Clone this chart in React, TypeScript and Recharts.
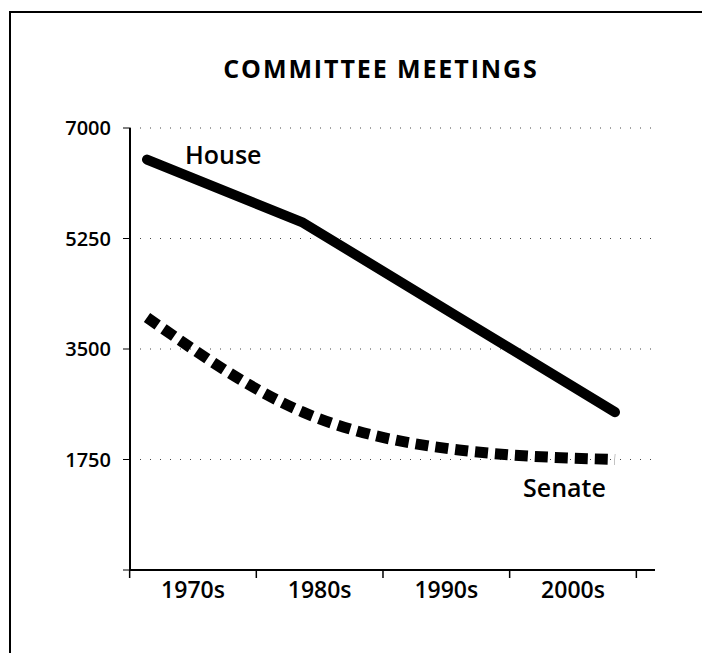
import { LineChart, Line, XAxis, YAxis, CartesianGrid } from "recharts";

const decades = ["1970s", "1980s", "1990s", "2000s"];
const house = [6500, 5500, 4000, 2500];
const senate = [4000, 2500, 1900, 1750];
const yTicks = [0, 1750, 3500, 5250, 7000];

const data = decades.map((d, i) => ({ decade: d, house: house[i], senate: senate[i] }));

const FONT = "'Open Sans', 'Noto Sans', sans-serif";
const BAND = 126.7;

function DecadeTick(props: any) {
  const { x, y, payload, index, visibleTicksCount } = props;
  const axisY = y - 12;
  const left = x - BAND / 2;
  return (
    <g>
      <line x1={left} x2={left} y1={axisY} y2={axisY + 8} stroke="#000" strokeWidth={1.5} />
      {index === visibleTicksCount - 1 && (
        <line x1={x + BAND / 2} x2={x + BAND / 2} y1={axisY} y2={axisY + 8} stroke="#000" strokeWidth={1.5} />
      )}
      <text x={x} y={y} dy="0.71em" textAnchor="middle" fontFamily={FONT} fontWeight={600} fontSize={23} fill="#000">
        {payload.value}
      </text>
    </g>
  );
}

const houseLabel = (p: any) =>
  p.index === 0 ? (
    <text x={p.x + 38} y={p.y + 4} fontFamily={FONT} fontWeight={600} fontSize={25} fill="#000">
      House
    </text>
  ) : (
    <g />
  );

const senateLabel = (p: any) =>
  p.index === decades.length - 1 ? (
    <text x={p.x - 92} y={p.y + 37} fontFamily={FONT} fontWeight={600} fontSize={25} fill="#000">
      Senate
    </text>
  ) : (
    <g />
  );

export default function App() {
  return (
    <div style={{ position: "relative", width: 694, height: 645, background: "#fff" }}>
      <div
        style={{
          position: "absolute",
          left: 1,
          top: 3,
          width: 701,
          height: 642,
          borderLeft: "2px solid #000",
          borderTop: "2px solid #000",
          boxSizing: "border-box",
        }}
      />
      <div
        style={{
          position: "absolute",
          left: 173,
          top: 48,
          width: 400,
          textAlign: "center",
          fontFamily: FONT,
          fontWeight: 700,
          fontSize: 25,
          lineHeight: 1,
          letterSpacing: 1.9,
          color: "#000",
        }}
      >
        COMMITTEE MEETINGS
      </div>
      <div style={{ position: "absolute", left: 0, top: 0 }}>
        <LineChart width={694} height={620} data={data} margin={{ top: 120, right: 47, bottom: 0, left: 0 }}>
          <CartesianGrid horizontal vertical={false} stroke="#444" strokeDasharray="1 9" />
          <XAxis
            dataKey="decade"
            type="category"
            padding={{ left: 63, right: 82 }}
            axisLine={{ stroke: "#000", strokeWidth: 2 }}
            tickLine={false}
            tickSize={0}
            tickMargin={12}
            height={58}
            interval={0}
            tick={<DecadeTick />}
          />
          <XAxis xAxisId="pts" dataKey="decade" type="category" padding={{ left: 17, right: 40 }} hide />
          <YAxis
            domain={[0, 7000]}
            ticks={yTicks}
            width={122}
            tickSize={7}
            tickMargin={12}
            tickFormatter={(v: number) => (v === 0 ? "" : String(v))}
            axisLine={{ stroke: "#000", strokeWidth: 2 }}
            tickLine={{ stroke: "#000" }}
            tick={{ fontFamily: FONT, fontWeight: 600, fontSize: 20, fill: "#000" }}
          />
          <Line
            xAxisId="pts"
            dataKey="senate"
            type="monotone"
            stroke="#000"
            strokeWidth={11}
            strokeDasharray="13 7"
            dot={false}
            label={senateLabel}
            isAnimationActive={false}
          />
          <Line
            xAxisId="pts"
            dataKey="house"
            type="linear"
            stroke="#000"
            strokeWidth={10}
            strokeLinecap="round"
            strokeLinejoin="round"
            dot={false}
            label={houseLabel}
            isAnimationActive={false}
          />
        </LineChart>
      </div>
    </div>
  );
}
